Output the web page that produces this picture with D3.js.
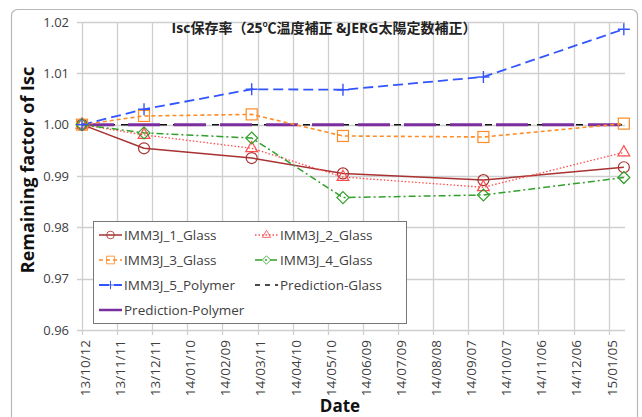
<!DOCTYPE html>
<html><head><meta charset="utf-8">
<script src="https://cdn.jsdelivr.net/npm/d3@7"></script>
<style>body{margin:0;background:#fff}svg{display:block}text{font-family:"Open Sans","Noto Sans CJK JP",sans-serif}</style>
</head><body><svg id="c" width="642" height="417"></svg>
<script>
const dates = ["2013-10-12","2013-12-04","2014-03-06","2014-05-23","2014-09-20","2015-01-18"];
const imm1 = [1.0000,0.9954,0.9935,0.9905,0.9892,0.9917];
const imm2 = [1.0000,0.9980,0.9954,0.9898,0.9878,0.9946];
const imm3 = [1.0000,1.0017,1.0020,0.9978,0.9976,1.0002];
const imm4 = [1.0000,0.9984,0.9974,0.9858,0.9863,0.9897];
const imm5 = [1.0000,1.0030,1.0069,1.0068,1.0093,1.0186];
const predDates = ["2013-10-12","2015-01-18"];
const predGlass = [1.0,1.0];
const predPolymer = [1.0,1.0];
const yTicks = [0.96,0.97,0.98,0.99,1.00,1.01,1.02];
const tickStart = "2013-10-12", tickCount = 16, tickStepDays = 30;
const title = "Isc保存率（25℃温度補正 &JERG太陽定数補正）";

const svg = d3.select("#c");
const pu = s => new Date(s + "T00:00:00Z");
const x = d3.scaleUtc().domain([pu("2013-10-12"), pu("2015-01-19")]).range([82, 625]);
const y = d3.scaleLinear().domain([0.96, 1.02]).range([330, 22]);

// outer frame
svg.append("rect").attr("x",11.5).attr("y",9.5).attr("width",626).attr("height",420)
  .attr("rx",6).attr("fill","#fff").attr("stroke","#b8b8b8").attr("stroke-width",1.2);

const xTicks = d3.range(tickCount).map(i => d3.utcDay.offset(pu(tickStart), i*tickStepDays));
const fmt = d3.utcFormat("%y/%m/%d");

// grid
const g = svg.append("g");
g.selectAll(".hg").data(yTicks).join("line")
  .attr("x1",77).attr("x2",625).attr("y1",d=>Math.round(y(d))+0.5).attr("y2",d=>Math.round(y(d))+0.5)
  .attr("stroke","#cfcfcf").attr("stroke-width",1.3);
g.selectAll(".vg").data(xTicks).join("line")
  .attr("x1",d=>Math.round(x(d))+0.5).attr("x2",d=>Math.round(x(d))+0.5)
  .attr("y1",22).attr("y2",335).attr("stroke","#cfcfcf").attr("stroke-width",1.3);

// axes
const yAxis = d3.axisLeft(y).tickValues(yTicks).tickFormat(d3.format(".2f")).tickSize(0).tickPadding(13);
const ya = svg.append("g").attr("transform","translate(82,0)").call(yAxis);
ya.select(".domain").remove();
ya.selectAll("text").attr("font-size",13).attr("fill","#404040");

const xAxis = d3.axisBottom(x).tickValues(xTicks).tickFormat(fmt).tickSize(0);
const xa = svg.append("g").attr("transform","translate(0,330)").call(xAxis);
xa.select(".domain").remove();
xa.selectAll("text").attr("font-size",13.5).attr("fill","#404040")
  .attr("transform","rotate(-90)").attr("text-anchor","end").attr("dx","-10").attr("dy","0.55em").attr("y",0);

svg.append("text").attr("x",324).attr("y",33).attr("text-anchor","middle")
  .attr("font-size",14).attr("font-weight","bold").attr("fill","#222").text(title);
svg.append("text").attr("transform","translate(34,170) rotate(-90)").attr("text-anchor","middle")
  .attr("font-size",18).attr("font-weight","bold").attr("fill","#111").text("Remaining factor of Isc");
svg.append("text").attr("x",340).attr("y",412).attr("text-anchor","middle")
  .attr("font-size",17).attr("font-weight","bold").attr("fill","#111").text("Date");

const series = [
  {name:"IMM3J_1_Glass", v:imm1, color:"#a83232", dash:null, w:1.5, marker:"circle"},
  {name:"IMM3J_2_Glass", v:imm2, color:"#ff4d4d", dash:"1.5,2", w:1.3, marker:"triangle"},
  {name:"IMM3J_3_Glass", v:imm3, color:"#ff8c26", dash:"4,3", w:1.6, marker:"square"},
  {name:"IMM3J_4_Glass", v:imm4, color:"#33a02c", dash:"7,3,2,3", w:1.5, marker:"diamond"},
  {name:"IMM3J_5_Polymer", v:imm5, color:"#3355ff", dash:"10,5", w:1.8, marker:"plus"},
];
const line = d3.line().x(d=>x(d[0])).y(d=>y(d[1]));

// predictions
const pg = predDates.map((d,i)=>[pu(d), predGlass[i]]);
svg.append("path").attr("d",line(pg)).attr("fill","none").attr("stroke","#111").attr("stroke-width",1.5).attr("stroke-dasharray","7,6");
const pd = predDates.map((d,i)=>[pu(d), predPolymer[i]]);
svg.append("path").attr("d",line(pd)).attr("fill","none").attr("stroke","#7b2f9e").attr("stroke-width",3).attr("stroke-dasharray","32,14");

function drawMarker(sel, type, color) {
  if (type==="circle") sel.append("circle").attr("r",5.5).attr("fill","none").attr("stroke",color).attr("stroke-width",1.2);
  else if (type==="triangle") sel.append("path").attr("d",d3.symbol(d3.symbolTriangle,60)()).attr("fill","none").attr("stroke",color).attr("stroke-width",1.2);
  else if (type==="square") sel.append("rect").attr("x",-5.5).attr("y",-5.5).attr("width",11).attr("height",11).attr("fill","none").attr("stroke",color).attr("stroke-width",1.2);
  else if (type==="diamond") sel.append("path").attr("d","M0,-6L6,0L0,6L-6,0Z").attr("fill","none").attr("stroke",color).attr("stroke-width",1.2);
  else if (type==="plus") sel.append("path").attr("d","M-6,0H6M0,-6V6").attr("fill","none").attr("stroke",color).attr("stroke-width",1.4);
}

series.forEach(s=>{
  const pts = dates.map((d,i)=>[pu(d), s.v[i]]);
  svg.append("path").attr("d",line(pts)).attr("fill","none").attr("stroke",s.color)
    .attr("stroke-width",s.w).attr("stroke-dasharray",s.dash);
});
series.forEach(s=>{
  dates.forEach((d,i)=>{
    const m = svg.append("g").attr("transform",`translate(${x(pu(d))},${y(s.v[i])})`);
    drawMarker(m, s.marker, s.color);
  });
});

// legend
const lg = svg.append("g");
lg.append("rect").attr("x",93.5).attr("y",221.5).attr("width",313).attr("height",102).attr("fill","#fff").attr("stroke","#777").attr("stroke-width",1);
const legendItems = [
  {s:series[0], col:0,row:0},{s:series[1],col:1,row:0},
  {s:series[2], col:0,row:1},{s:series[3],col:1,row:1},
  {s:series[4], col:0,row:2},{s:{name:"Prediction-Glass",color:"#111",dash:"5,5",w:1.5},col:1,row:2},
  {s:{name:"Prediction-Polymer",color:"#7b2f9e",dash:null,w:2.5},col:0,row:3}
];
legendItems.forEach(it=>{
  const x0 = it.col===0 ? 99 : 255, yy = 235 + it.row*25;
  const gi = lg.append("g");
  gi.append("line").attr("x1",x0).attr("x2",x0+23).attr("y1",yy).attr("y2",yy)
    .attr("stroke",it.s.color).attr("stroke-width",Math.min(it.s.w,2.5)).attr("stroke-dasharray",it.s.dash);
  if (it.s.marker) {
    const m = gi.append("g").attr("transform",`translate(${x0+11.5},${yy}) scale(0.7)`);
    drawMarker(m, it.s.marker, it.s.color);
  }
  gi.append("text").attr("x",x0+25).attr("y",yy).attr("dy","0.35em").attr("font-size",13.5).attr("fill","#404040").text(it.s.name);
});
</script></body></html>
